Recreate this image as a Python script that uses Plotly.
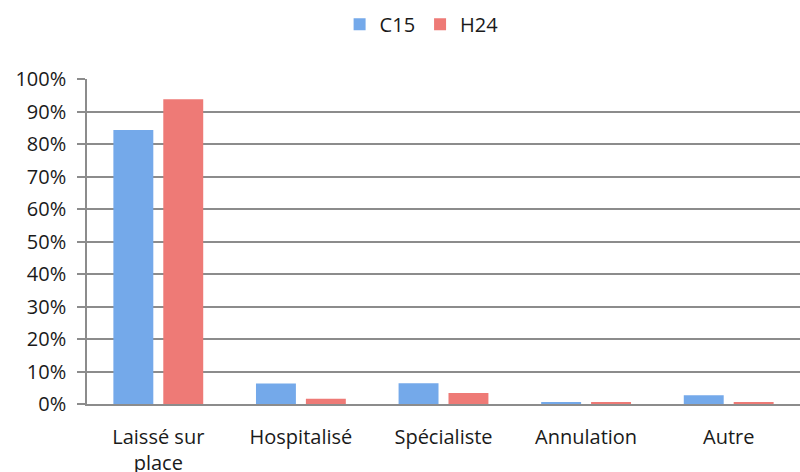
import plotly.graph_objects as go

categories = ["Laissé sur<br>place", "Hospitalisé", "Spécialiste", "Annulation", "Autre"]
c15 = [0.843, 0.063, 0.064, 0.006, 0.027]
h24 = [0.938, 0.016, 0.034, 0.006, 0.006]

fig = go.Figure()
fig.add_trace(go.Bar(name="C15", x=categories, y=c15,
                     marker=dict(color="#74a9ea", line=dict(width=0))))
fig.add_trace(go.Bar(name="H24", x=categories, y=h24,
                     marker=dict(color="#ee7a76", line=dict(width=0))))

fig.update_layout(
    width=800, height=472,
    margin=dict(l=87, r=0, t=79, b=68, autoexpand=False),
    paper_bgcolor="white", plot_bgcolor="white",
    font=dict(family="Open Sans", size=20, color="#1a1a1a"),
    barmode="group", bargap=0.3, bargroupgap=0.2,
    showlegend=True,
    legend=dict(orientation="h", x=0.527, xanchor="center", xref="container",
                y=0.99, yref="container", yanchor="top",
                font=dict(size=20), traceorder="normal"),
)
fig.update_yaxes(range=[0, 1], dtick=0.1, tickformat=".0%", automargin=False,
                 showgrid=True, gridcolor="#8c8c8c", gridwidth=1.5,
                 showline=True, linecolor="#8c8c8c", linewidth=1.5,
                 ticks="outside", ticklen=8, tickcolor="#8c8c8c", tickwidth=1.5,
                 ticklabelstandoff=7, zeroline=False, fixedrange=True)
fig.update_xaxes(showline=True, linecolor="#8c8c8c", linewidth=2, automargin=False,
                 ticks="", ticklabelstandoff=14, fixedrange=True)

fig.write_html("out.html", config={"displayModeBar": False},
               post_script="document.body.style.margin='0';document.body.style.padding='0';")
